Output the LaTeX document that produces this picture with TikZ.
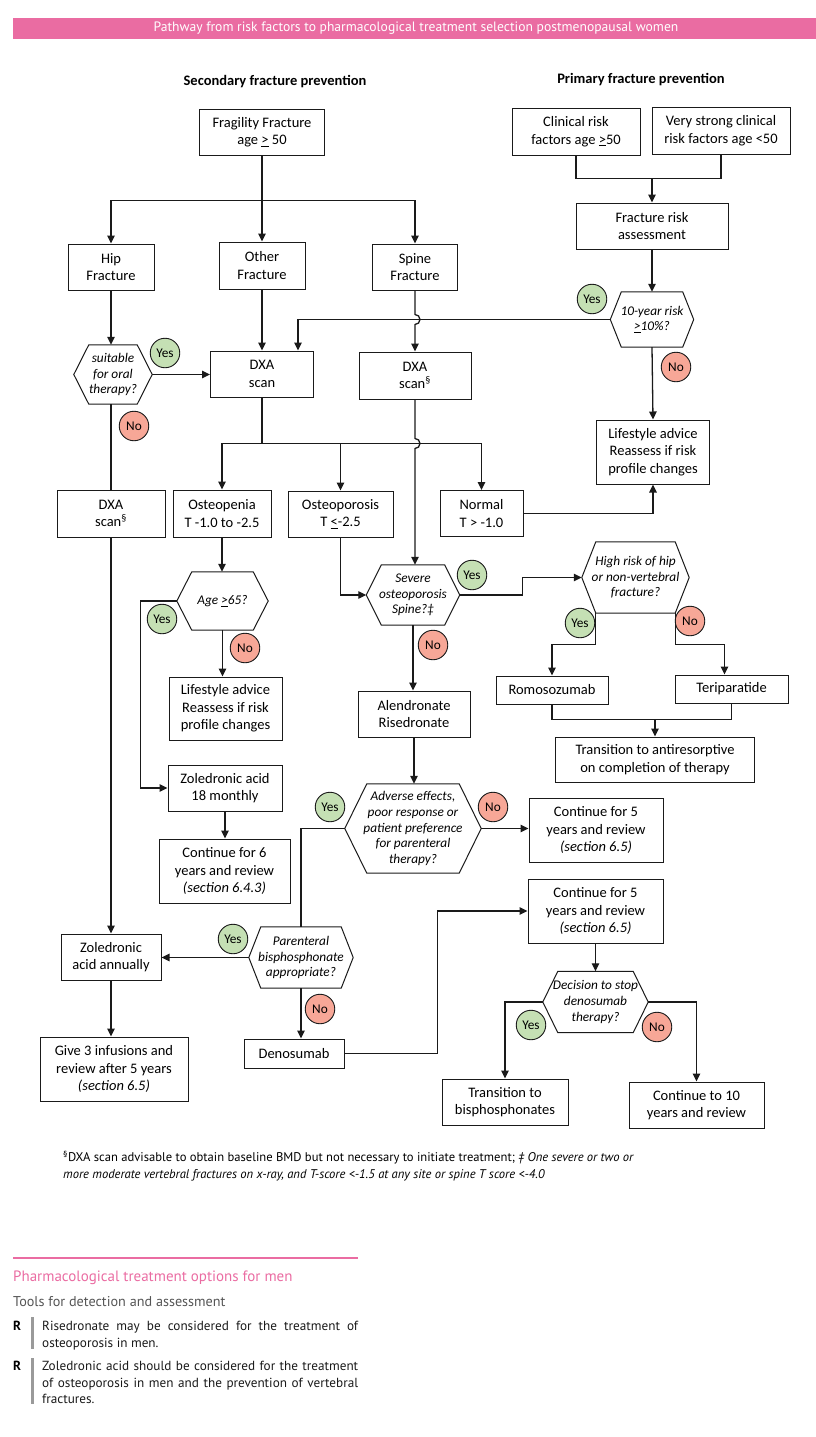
\documentclass[tikz,border=0pt]{standalone}
\usepackage{fontspec}
\setmainfont{Carlito}
\newfontfamily\ptsans{PT Sans}
\usetikzlibrary{arrows.meta,calc}
\definecolor{pinkbar}{HTML}{EA6CA2}
\definecolor{yesg}{HTML}{C5E0B4}
\definecolor{nor}{HTML}{F7A797}
\definecolor{linec}{HTML}{1A1A1A}
\definecolor{graytxt}{HTML}{555555}
\definecolor{graybar}{HTML}{9A9A9A}
\newcommand{\ulgt}{\underline{>}}
\newcommand{\ullt}{\underline{<}}
\tikzset{
 box/.style={draw=linec, line width=1pt, fill=white, align=center, inner sep=1pt, font=\fontsize{14.5}{17.5}\selectfont, text=black},
 hexlabel/.style={align=center, inner sep=0pt, font=\itshape\fontsize{13.3}{15.6}\selectfont},
 hexline/.style={draw=linec, line width=1pt},
 yesc/.style={circle, draw=linec, line width=0.9pt, fill=yesg, minimum size=29.5pt, inner sep=0pt, font=\fontsize{13.3}{14}\selectfont},
 noc/.style={yesc, fill=nor},
 ln/.style={draw=linec, line width=1.3pt},
 arr/.style={ln, -{Triangle[length=8pt,width=7.5pt]}},
}
% name, x, y, w, h, inset, text
\newcommand{\hexnode}[7]{%
 \node[hexlabel, minimum width=#4pt, minimum height=#5pt] (#1) at (#2,#3) {#7};
 \draw[hexline] (#1.west) -- ($(#1.north west)+(#6,0)$) -- ($(#1.north east)+(-#6,0)$) -- (#1.east) -- ($(#1.south east)+(-#6,0)$) -- ($(#1.south west)+(#6,0)$) -- cycle;
 \coordinate (#1-bl) at ($(#1.south west)+(#6,0)$);
 \coordinate (#1-br) at ($(#1.south east)+(-#6,0)$);
}
\newcommand{\bx}[6]{% name, x, y, w, h, text
 \node[box, minimum width=#4pt, minimum height=#5pt] (#1) at (#2,#3) {#6};
}
\begin{document}
\begin{tikzpicture}[x=1pt,y=-1pt]
\useasboundingbox (0,0) rectangle (816,1437);
% banner
\node[fill=pinkbar, minimum width=803pt, minimum height=21pt, anchor=north west, inner sep=0pt] (banner) at (13,18) {};
\node[text=white, font=\ptsans\fontsize{13.6}{15}\selectfont, inner sep=0pt] (bannertext) at (416,28.5) {Pathway from risk factors to pharmacological treatment selection postmenopausal women};
% headers
\node[font=\bfseries\fontsize{14.5}{16}\selectfont, inner sep=0pt] (h1) at (275,82) {Secondary fracture prevention};
\node[font=\bfseries\fontsize{14.5}{16}\selectfont, inner sep=0pt] (h2) at (641,80) {Primary fracture prevention};

% boxes
\bx{fragility}{262}{132}{125}{46}{Fragility Fracture\\age \ulgt{} 50}
\bx{clinical}{576}{131.5}{128}{47}{Clinical risk\\factors age \ulgt50}
\bx{strong}{721}{130.5}{138}{47}{Very strong clinical\\risk factors age <50}
\bx{frisk}{652}{226}{152}{46}{Fracture risk\\assessment}
\bx{lifeR}{653}{452}{113}{64}{Lifestyle advice\\Reassess if risk\\profile changes}
\bx{hip}{111}{267}{86}{46}{Hip\\Fracture}
\bx{other}{262}{265.5}{86}{47}{Other\\Fracture}
\bx{spine}{415}{267}{85}{46}{Spine\\Fracture}
\bx{dxa1}{262}{374}{103}{46}{DXA\\scan}
\bx{dxa2}{415}{375.5}{112}{47}{DXA\\scan\textsuperscript{§}}
\bx{dxa3}{111}{513.5}{108}{47}{DXA\\scan\textsuperscript{§}}
\bx{openia}{222}{513.5}{98}{47}{Osteopenia\\T -1.0 to -2.5}
\bx{oporo}{340.5}{514}{105}{46}{Osteoporosis\\T \ullt-2.5}
\bx{normal}{481.5}{513.5}{83}{46}{Normal\\T > -1.0}
\bx{romo}{552}{690}{112}{28}{Romosozumab}
\bx{teri}{731.5}{689}{113}{28}{Teriparatide}
\bx{trans}{655}{759.5}{199}{45}{Transition to antiresorptive\\on completion of therapy}
\bx{lifeL}{225.5}{708.5}{113}{63}{Lifestyle advice\\Reassess if risk\\profile changes}
\bx{alend}{414}{714}{112}{46}{Alendronate\\Risedronate}
\bx{zol18}{225}{788}{114}{46}{Zoledronic acid\\18 monthly}
\bx{cont6}{224.5}{871}{131}{64}{Continue for 6\\years and review\\\textit{(section 6.4.3)}}
\bx{cont5a}{596}{830}{134}{64}{Continue for 5\\years and review\\\textit{(section 6.5)}}
\bx{cont5b}{595.5}{911}{135}{64}{Continue for 5\\years and review\\\textit{(section 6.5)}}
\bx{zolann}{111}{957}{100}{46}{Zoledronic\\acid annually}
\bx{denos}{294}{1053.5}{100}{29}{Denosumab}
\bx{give3}{114}{1069}{148}{64}{Give 3 infusions and\\review after 5 years\\\textit{(section 6.5)}}
\bx{transb}{505}{1102}{126}{46}{Transition to\\bisphosphonates}
\bx{cont10}{696.5}{1105}{135}{46}{Continue to 10\\years and review}

% hexagons
\hexnode{tenyr}{652}{319.5}{83}{55}{11}{10-year risk\\\ulgt10\%?}
\hexnode{suit}{113}{374.5}{78}{59}{15}{suitable\\for oral\\therapy?}
\hexnode{age}{222.5}{601}{91}{58}{15}{Age \ulgt65?}
\hexnode{severe}{413}{595}{93}{60}{15}{Severe\\osteoporosis\\Spine?‡}
\hexnode{high}{635.5}{577.5}{107}{71}{14}{High risk of hip\\or non-vertebral\\fracture?}
\hexnode{adverse}{413}{828.5}{136}{89}{22}{Adverse effects,\\poor response or\\patient preference\\for parenteral\\therapy?}
\hexnode{parent}{301}{957.5}{104}{61}{12}{Parenteral\\bisphosphonate\\appropriate?}
\hexnode{decision}{595.5}{1002}{105}{61}{15}{Decision to stop\\denosumab\\therapy?}

% connectors
\coordinate (fsplit) at ($(fragility.south)+(0,45)$);
\draw[ln] (fragility.south) -- (fsplit);
\draw[arr] (fsplit) -| (hip.north);
\draw[arr] (fsplit) -| (spine.north);
\draw[arr] (fsplit) -- (other.north);

\coordinate (cjoin) at ($(frisk.north)+(0,-24)$);
\draw[ln] (clinical.south) |- (cjoin);
\draw[ln] (strong.south) |- (cjoin);
\draw[arr] (cjoin) -- (frisk.north);
\draw[arr] (frisk.south) -- (tenyr.north);
\draw[arr] (tenyr.south) -- (lifeR.north);
\draw[arr] (tenyr.west) -| ($(dxa1.north)+(36,0)$);
\draw[arr] (spine.south) -- ($(spine.south |- tenyr.west)+(0,-5)$) arc[start angle=-90,end angle=90,radius=5] -- (dxa2.north);

\draw[arr] (hip.south) -- (hip.south |- suit.north);
\draw[arr] (suit.east) -- (suit.east -| dxa1.west);
\draw[ln] (hip.south |- suit.south) -- (dxa3.north);
\draw[arr] (dxa3.south) -- (zolann.north);
\draw[arr] (other.south) -- (dxa1.north);

\coordinate (dsplit) at ($(dxa1.south)+(0,46)$);
\draw[ln] (dxa1.south) -- (dsplit);
\draw[arr] (dsplit) -| (openia.north);
\draw[arr] (dsplit) -| (oporo.north);
\draw[arr] (dsplit) -| (normal.north);
\draw[arr] (dxa2.south) -- ($(dxa2.south |- dsplit)+(0,-5)$) arc[start angle=-90,end angle=90,radius=5] -- (dxa2.south |- severe.north);
\draw[arr] (normal.east) -| (lifeR.south);

\draw[arr] (openia.south) -- (openia.south |- age.north);
\draw[arr] (age.west) -- ++(-36,0) |- (zol18.west);
\draw[arr] (age.south) -- (age.south |- lifeL.north);
\draw[arr] (oporo.south) |- (severe.west);
\draw[arr] (severe.east) -- ++(63,0) |- (high.west);
\draw[arr] (severe.south) -- (severe.south |- alend.north);
\draw[arr] (high-bl) -- ++(0,31) -| (romo.north);
\draw[arr] (high-br) -- ++(0,31) -| ($(teri.north)+(-7,0)$);
\coordinate (rjoin) at ($(trans.north)+(0,-17)$);
\draw[ln] (romo.south) |- (rjoin);
\draw[ln] (teri.south) |- (rjoin);
\draw[arr] (rjoin) -- (trans.north);
\draw[arr] (alend.south) -- (alend.south |- adverse.north);
\draw[ln] (adverse.west) -| (parent.north);
\draw[arr] (adverse.east) -- (adverse.east -| cont5a.west);
\draw[arr] (zol18.south) -- (zol18.south |- cont6.north);
\draw[arr] (parent.west) -- (parent.west -| zolann.east);
\draw[arr] (parent.south) -- (parent.south |- denos.north);
\draw[arr] (denos.east) -- ++(93,0) |- (cont5b.west);
\draw[arr] (cont5b.south) -- (cont5b.south |- decision.north);
\draw[arr] (decision.west) -| (transb.north);
\draw[arr] (decision.east) -| (cont10.north);
\draw[arr] (zolann.south) -- (zolann.south |- give3.north);

% yes / no
\node[yesc] (y1) at (592,299) {Yes};
\node[noc] (n1) at (676,367) {No};
\node[yesc] (y2) at (165,353) {Yes};
\node[noc] (n2) at (134,426) {No};
\node[yesc] (y3) at (162,619) {Yes};
\node[noc] (n3) at (245,648) {No};
\node[yesc] (y4) at (472,575) {Yes};
\node[noc] (n4) at (433,645) {No};
\node[yesc] (y5) at (580,623) {Yes};
\node[noc] (n5) at (690,621) {No};
\node[yesc] (y6) at (330,807) {Yes};
\node[noc] (n6) at (493,807) {No};
\node[yesc] (y7) at (233,939) {Yes};
\node[noc] (n7) at (320,1009) {No};
\node[yesc] (y8) at (531,1025) {Yes};
\node[noc] (n8) at (657,1027) {No};

% footnote
\node[anchor=north west, align=left, font=\ptsans\fontsize{12.6}{16.5}\selectfont, inner sep=0pt] (fn) at (63,1151) {\textsuperscript{§}DXA scan advisable to obtain baseline BMD but not necessary to initiate treatment; \textit{‡ One severe or two or}\\\textit{more moderate vertebral fractures on x-ray, and T-score <-1.5 at any site or spine T score <-4.0}};

% bottom section
\draw[pinkbar, line width=2.5pt] (13,1258) -- (358,1258);
\node[anchor=west, text=pinkbar, font=\ptsans\fontsize{15}{17}\selectfont, inner sep=0pt] (t1) at (13,1277.5) {Pharmacological treatment options for men};
\node[anchor=west, text=graytxt, font=\ptsans\fontsize{14.2}{16}\selectfont, inner sep=0pt] (t2) at (13,1301.5) {Tools for detection and assessment};
\node[anchor=north west, font=\ptsans\bfseries\fontsize{13.2}{16.5}\selectfont, inner sep=0pt] (r1) at (13,1321) {R};
\fill[graybar] (31,1317) rectangle (34,1349);
\node[anchor=north west, text width=316pt, align=justify, font=\ptsans\fontsize{13.2}{16.5}\selectfont, inner sep=0pt, text=black!90] (r1t) at (42,1321) {Risedronate may be considered for the treatment of\linebreak osteoporosis in men.};
\node[anchor=north west, font=\ptsans\bfseries\fontsize{13.2}{16.5}\selectfont, inner sep=0pt] (r2) at (13,1361) {R};
\fill[graybar] (31,1358) rectangle (34,1404);
\node[anchor=north west, text width=316pt, align=justify, font=\ptsans\fontsize{13.2}{16.5}\selectfont, inner sep=0pt, text=black!90] (r2t) at (42,1361) {Zoledronic acid should be considered for the treatment\linebreak of osteoporosis in men and the prevention of vertebral\linebreak fractures.};
\end{tikzpicture}
\end{document}
